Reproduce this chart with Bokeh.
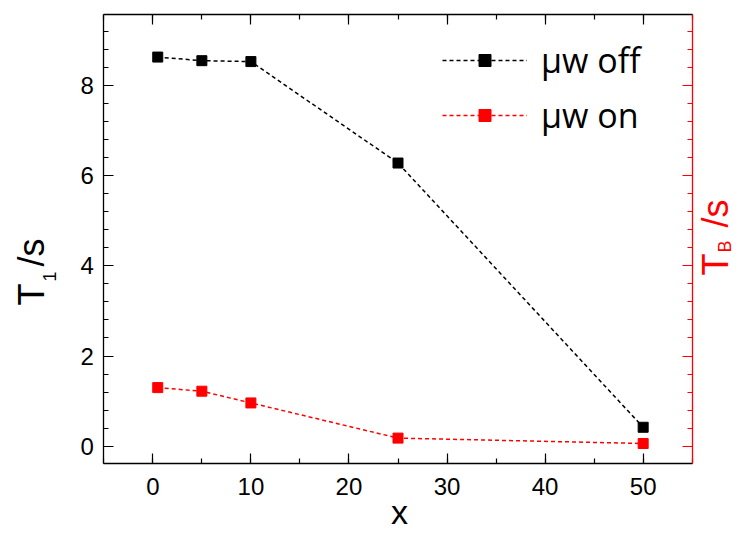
import math
from bokeh.plotting import figure
from bokeh.models import (LinearAxis, SingleIntervalTicker, Label, Legend, LegendItem,
                          Range1d, CustomJSTickFormatter, ColumnDataSource)
from bokeh.embed import file_html
from bokeh.resources import INLINE

# ---- data ----
x_vals = [0.5, 5, 10, 25, 50]
t1_off = [8.63, 8.55, 8.53, 6.28, 0.42]
tb_on = [1.30, 1.22, 0.96, 0.18, 0.06]
series_labels = ["\u03bcw off", "\u03bcw on"]
x_label = "x"
left_label = ("T", "1", "/s")
right_label = ("T", "B", "/s")
x_axis_limits = (-5, 55)
y_axis_limits = (-0.39, 9.574)

BLACK = "#000000"
RED = "#ff0000"
TICK_FONT = "Liberation Sans"
AX_FONT = "Liberation Sans"

# ---- layout (canvas pixels) ----
W, H = 736, 531
FL, FR, FT, FB = 103.3, 691.7, 14, 463.3   # plot box edges
X0, X1 = x_axis_limits
Y0, Y1 = y_axis_limits
kx = (FR - FL) / (X1 - X0)
ky = (FB - FT) / (Y1 - Y0)

p = figure(width=W, height=H, output_backend="svg", toolbar_location=None,
           x_range=Range1d(X0 - FL / kx, X1 + (W - FR) / kx),
           y_range=Range1d(Y0 - (H - FB) / ky, Y1 + FT / ky),
           min_border=0, min_border_left=0, min_border_right=0,
           min_border_top=0, min_border_bottom=0,
           background_fill_color="white", border_fill_color="white")
p.outline_line_color = None
p.xgrid.visible = False
p.ygrid.visible = False


def style_axis(ax, color, ticker, loc, bounds, show_labels=True, standoff=8):
    ax.ticker = ticker
    ax.fixed_location = loc
    ax.bounds = bounds
    ax.axis_line_color = color
    ax.axis_line_width = 1.3
    ax.major_tick_line_color = color
    ax.minor_tick_line_color = color
    ax.major_tick_line_width = 1.2
    ax.minor_tick_line_width = 1.2
    ax.major_tick_in = 10
    ax.major_tick_out = 0
    ax.minor_tick_in = 5
    ax.minor_tick_out = 0
    if show_labels:
        ax.major_label_text_font = TICK_FONT
        ax.major_label_text_font_size = "24px"
        ax.major_label_text_color = BLACK
        ax.major_label_standoff = standoff
    else:
        ax.formatter = CustomJSTickFormatter(code="return ''")
        ax.major_label_text_font_size = "1px"
        ax.major_label_standoff = 0


style_axis(p.xaxis[0], BLACK, SingleIntervalTicker(interval=10, num_minor_ticks=2),
           Y0, (X0, X1), True, 14)
style_axis(p.yaxis[0], BLACK, SingleIntervalTicker(interval=2, num_minor_ticks=5),
           X0, (Y0, Y1), True, 10)

top_ax = LinearAxis()
style_axis(top_ax, BLACK, SingleIntervalTicker(interval=10, num_minor_ticks=2),
           Y1, (X0, X1), False)
p.add_layout(top_ax, "above")
right_ax = LinearAxis()
style_axis(right_ax, RED, SingleIntervalTicker(interval=2, num_minor_ticks=5),
           X1, (Y0, Y1), False)
p.add_layout(right_ax, "right")

src = ColumnDataSource(dict(x=x_vals, off=t1_off, on=tb_on))
l1 = p.line("x", "off", source=src, line_color=BLACK, line_width=1.5, line_dash="4 3")
s1 = p.scatter("x", "off", source=src, marker="square", size=10, fill_color=BLACK, line_color=BLACK)
l2 = p.line("x", "on", source=src, line_color=RED, line_width=1.5, line_dash="4 3")
s2 = p.scatter("x", "on", source=src, marker="square", size=10, fill_color=RED, line_color=RED)

legend = Legend(items=[LegendItem(label=series_labels[0], renderers=[l1, s1]),
                       LegendItem(label=series_labels[1], renderers=[l2, s2])],
                location=(442, 393), border_line_color=None, background_fill_alpha=0,
                padding=0, margin=0, glyph_width=85, glyph_height=30, label_height=30,
                label_standoff=14, spacing=9,
                label_text_font="Open Sans", label_text_font_size="34px",
                label_text_color=BLACK)
p.add_layout(legend)


def add_label(bx, by, text, size_px, color, angle=0.0, align="left"):
    # (bx, by): canvas pixel position of the text's baseline start (top-left origin).
    # Text is anchored by its middle, so move the anchor up (in text frame) from the baseline.
    shift = 0.3465 * size_px
    if angle:
        cx, cy = bx - shift, by
    else:
        cx, cy = bx, by - shift
    p.add_layout(Label(x=cx, y=H - cy, x_units="screen", y_units="screen", text=text,
                       angle=angle, text_font=AX_FONT, text_font_size=f"{size_px}px",
                       text_align=align, text_baseline="middle", text_color=color))


rot = math.pi / 2
# x axis title
add_label(399, 523, x_label, 34, BLACK, 0.0, "center")
# left y title
add_label(43.3, 305, left_label[0], 36, BLACK, rot)
add_label(55, 281, left_label[1], 18, BLACK, rot)
add_label(43.3, 266, left_label[2], 36, BLACK, rot)
# right y title (red)
add_label(727, 275, right_label[0], 36, RED, rot)
add_label(731, 252, right_label[1], 18, RED, rot)
add_label(727, 227, right_label[2], 36, RED, rot)

open("out.html", "w").write(file_html(p, INLINE))
